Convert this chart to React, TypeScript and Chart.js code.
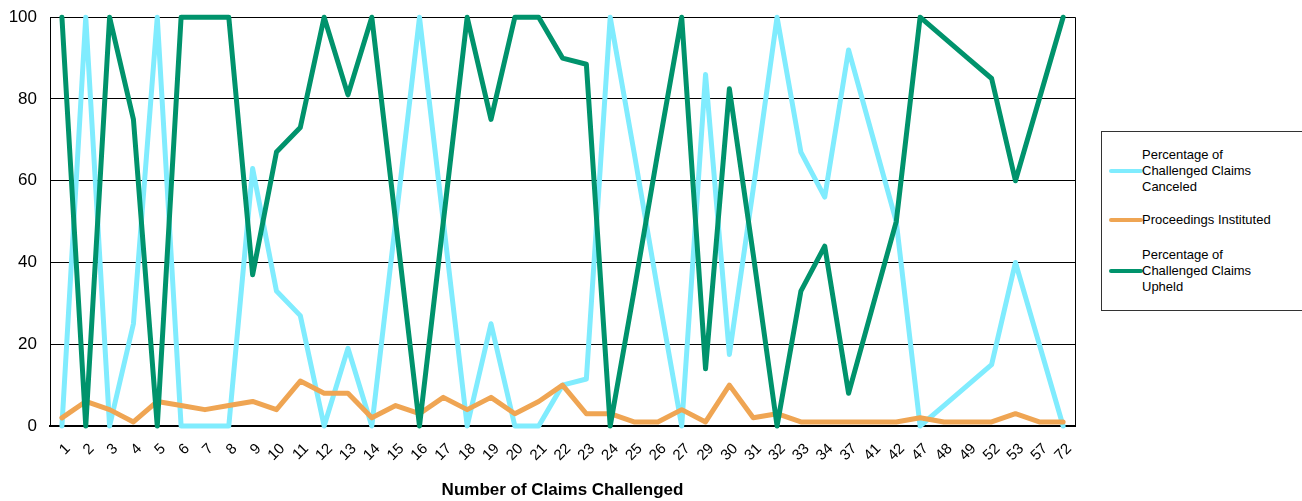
import React, { useEffect, useRef } from 'react';
import { Chart, registerables } from 'chart.js';

Chart.register(...registerables);

const categories = [
  '1', '2', '3', '4', '5', '6', '7', '8', '9', '10', '11', '12', '13', '14', '15', '16', '17', '18', '19', '20',
  '21', '22', '23', '24', '25', '26', '27', '29', '30', '31', '32', '33', '34', '37', '41', '42', '47', '48', '49',
  '52', '53', '57', '72',
];

const canceled = [
  0, 100, 0, 25, 100, 0, 0, 0, 63, 33, 27, 0, 19, 0, 50, 100, 50, 0, 25, 0,
  0, 10, 11.5, 100, 67, 33, 0, 86, 17.5, 58, 100, 67, 56, 92, 71, 50, 0, 5, 10,
  15, 40, 20, 0,
];

const proceedings = [
  2, 6, 4, 1, 6, 5, 4, 5, 6, 4, 11, 8, 8, 2, 5, 3, 7, 4, 7, 3,
  6, 10, 3, 3, 1, 1, 4, 1, 10, 2, 3, 1, 1, 1, 1, 1, 2, 1, 1,
  1, 3, 1, 1,
];

const upheld = [
  100, 0, 100, 75, 0, 100, 100, 100, 37, 67, 73, 100, 81, 100, 50, 0, 50, 100, 75, 100,
  100, 90, 88.5, 0, 33, 67, 100, 14, 82.5, 42, 0, 33, 44, 8, 29, 50, 100, 95, 90,
  85, 60, 80, 100,
];

const yTickValues = [0, 20, 40, 60, 80, 100];

const seriesNames = [
  'Percentage of Challenged Claims Canceled',
  'Proceedings Instituted',
  'Percentage of Challenged Claims Upheld',
];
const legendLines = [
  ['Percentage of', 'Challenged Claims', 'Canceled'],
  ['Proceedings Instituted'],
  ['Percentage of', 'Challenged Claims', 'Upheld'],
];

const CYAN = '#80ECFE';
const ORANGE = '#EFA553';
const GREEN = '#00936C';
const FONT = "'Liberation Sans', Arial, sans-serif";

export default function App() {
  const ref = useRef<HTMLCanvasElement>(null);

  useEffect(() => {
    document.body.style.margin = '0';
    const areaBorder = {
      id: 'areaBorder',
      afterDraw(chart: any) {
        const { ctx, chartArea: a } = chart;
        ctx.save();
        ctx.strokeStyle = '#000';
        ctx.lineWidth = 1;
        ctx.beginPath();
        ctx.moveTo(Math.round(a.right) + 0.5, a.top);
        ctx.lineTo(Math.round(a.right) + 0.5, a.bottom);
        ctx.stroke();
        ctx.restore();
      },
    };
    const common = {
      pointRadius: 0,
      pointHoverRadius: 0,
      borderWidth: 5,
      tension: 0,
      fill: false,
      borderJoinStyle: 'round' as const,
      borderCapStyle: 'round' as const,
      clip: 4,
    };
    const chart = new Chart(ref.current!, {
      type: 'line',
      data: {
        labels: categories,
        datasets: [
          { ...common, label: seriesNames[0], data: canceled, borderColor: CYAN, backgroundColor: CYAN, order: 3 },
          { ...common, label: seriesNames[1], data: proceedings, borderColor: ORANGE, backgroundColor: ORANGE, order: 2 },
          { ...common, label: seriesNames[2], data: upheld, borderColor: GREEN, backgroundColor: GREEN, order: 1 },
        ],
      },
      options: {
        animation: false,
        responsive: false,
        devicePixelRatio: 1,
        layout: { padding: { top: 10, right: 13, left: 0, bottom: 0 } },
        plugins: { legend: { display: false }, tooltip: { enabled: false } },
        scales: {
          x: {
            type: 'category',
            offset: true,
            grid: { display: false, drawTicks: false },
            border: { display: true, color: '#000', width: 2 },
            ticks: {
              autoSkip: false,
              minRotation: 45,
              maxRotation: 45,
              padding: 14,
              labelOffset: 6,
              color: '#000',
              font: { family: FONT, size: 15 },
            },
            title: {
              display: true,
              text: 'Number of Claims Challenged',
              color: '#000',
              font: { family: FONT, size: 17, weight: 'bold' },
              padding: { top: 4, bottom: 0 },
            },
            afterFit: (s: any) => {
              s.height = 75;
            },
          },
          y: {
            min: 0,
            max: 100,
            afterBuildTicks: (s: any) => {
              s.ticks = yTickValues.map((v) => ({ value: v }));
            },
            ticks: { padding: 13, color: '#000', font: { family: FONT, size: 17 } },
            grid: { color: '#000', lineWidth: 1, drawTicks: false },
            border: { display: true, color: '#000', width: 1 },
            afterFit: (s: any) => {
              s.width = 50;
            },
          },
        },
      },
      plugins: [areaBorder],
    });
    return () => chart.destroy();
  }, []);

  const colors = [CYAN, ORANGE, GREEN];
  const textTops = [15, 80, 115];
  const sampleTops = [37, 86, 137];

  return (
    <div style={{ position: 'relative', width: 1302, height: 501, overflow: 'hidden', background: '#fff' }}>
      <canvas ref={ref} width={1090} height={507} style={{ position: 'absolute', left: 0, top: -6, display: 'block' }} />
      <div
        style={{
          position: 'absolute',
          left: 1101,
          top: 131,
          width: 212,
          height: 180,
          border: '1px solid #333',
          boxSizing: 'border-box',
          background: '#fff',
          fontFamily: FONT,
          fontSize: 13,
          color: '#000',
        }}
      >
        {legendLines.map((lines, i) => (
          <React.Fragment key={i}>
            <div
              style={{
                position: 'absolute',
                left: 7,
                top: sampleTops[i],
                width: 34,
                height: 4,
                borderRadius: 2,
                background: colors[i],
              }}
            />
            <div style={{ position: 'absolute', left: 40, top: textTops[i], lineHeight: '16px', whiteSpace: 'nowrap' }}>
              {lines.map((t, j) => (
                <div key={j}>{t}</div>
              ))}
            </div>
          </React.Fragment>
        ))}
      </div>
    </div>
  );
}
